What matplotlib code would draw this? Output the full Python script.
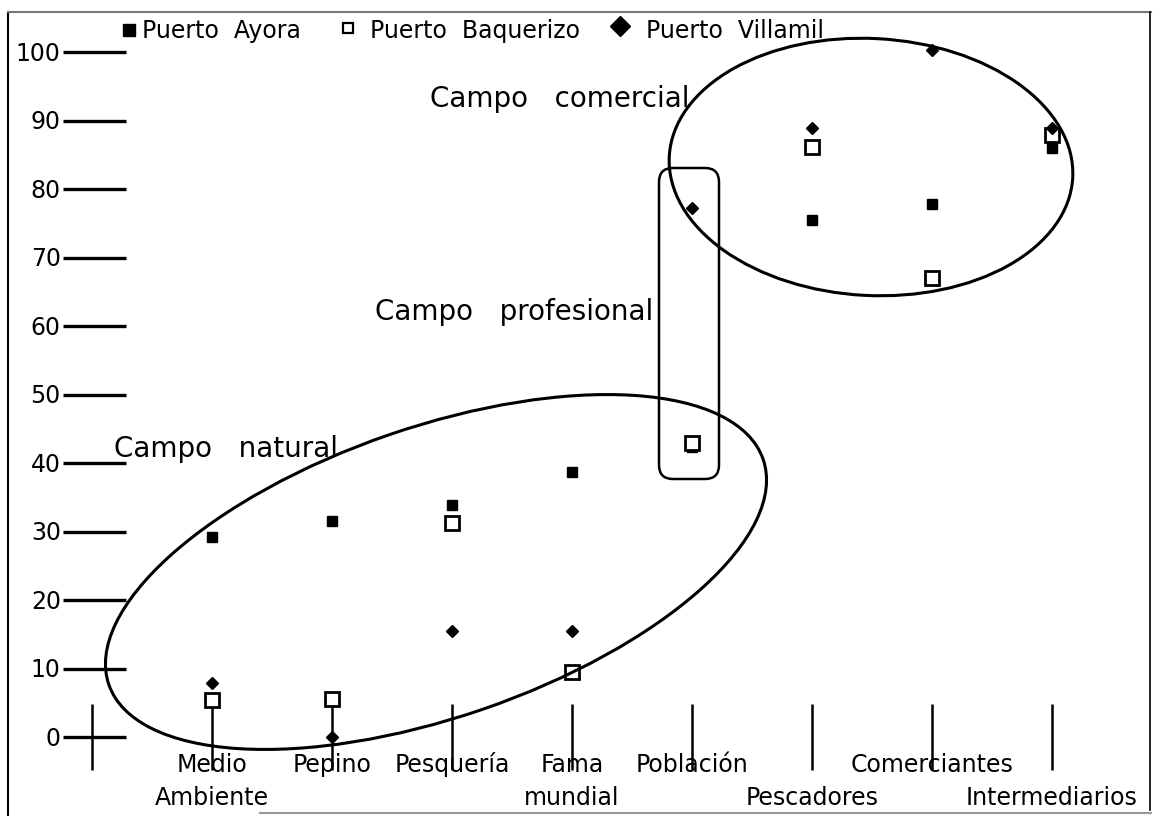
import matplotlib
matplotlib.use('Agg')
import matplotlib.pyplot as plt
from matplotlib.patches import Ellipse, FancyBboxPatch

plt.rcParams['font.family'] = ['DejaVu Sans']

# x categories (labels staggered over two rows as in the original)
label_top = ['Medio', 'Pepino', 'Pesquería', 'Fama', 'Población', '', 'Comerciantes', '']
label_bottom = ['Ambiente', '', '', 'mundial', '', 'Pescadores', '', 'Intermediarios']

# values (%)
ayora = [29.2, 31.5, 33.9, 38.7, 42.3, 75.5, 77.8, 86.0]
baquerizo = [5.4, 5.6, 31.2, 9.5, 42.9, 86.1, 67.0, 87.9]
villamil = [7.9, 0.0, 15.5, 15.5, 77.2, 88.9, 100.3, 88.9]

yticks = [0, 10, 20, 30, 40, 50, 60, 70, 80, 90, 100]
series_names = ['Puerto  Ayora', 'Puerto  Baquerizo', 'Puerto  Villamil']
group_labels = ['Campo   comercial', 'Campo   profesional', 'Campo   natural']

W, H = 1154, 816
fig = plt.figure(figsize=(W / 100, H / 100), dpi=100)
fig.patch.set_facecolor('white')

# data axes filling the figure: x=0 is the origin cross, categories at 1..8
ax = fig.add_axes([0, 0, 1, 1])
ax.set_xlim(-92 / 120, (W - 92) / 120)
ax.set_ylim((737 - H) / 6.85, 737 / 6.85)
ax.axis('off')

xs = list(range(1, len(label_top) + 1))

# y "ticks": long horizontal dashes with numbers
ax.hlines(yticks, -0.24, 0.28, color='black', lw=2.4)
for v in yticks:
    ax.text(-0.26, v - 1.25, str(v), ha='right', va='baseline', fontsize=17)

# vertical ticks at the origin and at each category
ax.vlines([0] + xs, -4.8, 4.8, color='black', lw=1.8)

# category labels
for x, t1, t2 in zip(xs, label_top, label_bottom):
    if t1:
        ax.text(x, -5.15, t1, ha='center', va='baseline', fontsize=17)
    if t2:
        ax.text(x, -9.95, t2, ha='center', va='baseline', fontsize=17)

# points
ax.plot(xs, ayora, ls='none', marker='s', ms=7, color='black', zorder=3)
ax.plot(xs, baquerizo, ls='none', marker='s', ms=10, mfc='white', mec='black',
        mew=2, zorder=4)
ax.plot(xs, villamil, ls='none', marker='D', ms=6, color='black', zorder=5)

# overlay in pixel units for the hand-drawn group outlines, legend and frame
ov = fig.add_axes([0, 0, 1, 1], facecolor='none')
ov.set_xlim(0, W)
ov.set_ylim(H, 0)
ov.axis('off')

ov.add_patch(Ellipse((436, 572), 692, 290, angle=-19, fill=False, ec='black', lw=2.2))
ov.add_patch(Ellipse((871, 167), 404, 257, angle=3, fill=False, ec='black', lw=2.2))
ov.add_patch(FancyBboxPatch((659, 168), 60, 311,
                            boxstyle='round,pad=0,rounding_size=14',
                            fill=False, ec='black', lw=1.8))

ov.text(430, 107, group_labels[0], fontsize=20, va='baseline')
ov.text(375, 320, group_labels[1], fontsize=20, va='baseline')
ov.text(114, 457, group_labels[2], fontsize=20, va='baseline')

# legend row
ov.plot([129], [29.5], marker='s', ms=9, color='black', clip_on=False)
ov.text(142, 38, series_names[0], fontsize=17, va='baseline')
ov.plot([348], [27.5], marker='s', ms=7.5, mfc='white', mec='black', mew=1.6)
ov.text(370, 38, series_names[1], fontsize=17, va='baseline')
ov.plot([620], [25.5], marker='D', ms=10, color='black')
ov.text(646, 38, series_names[2], fontsize=17, va='baseline')

# page frame
ov.plot([8, 8], [12, H], color='black', lw=1.5)
ov.plot([8, 1151], [12, 12], color='#777777', lw=1.5)
ov.plot([1150, 1150], [12, 810], color='black', lw=1.2)
ov.plot([260, 1151], [813, 813], color='#999999', lw=1.5)

fig.savefig('out.png', dpi=100, facecolor='white')
